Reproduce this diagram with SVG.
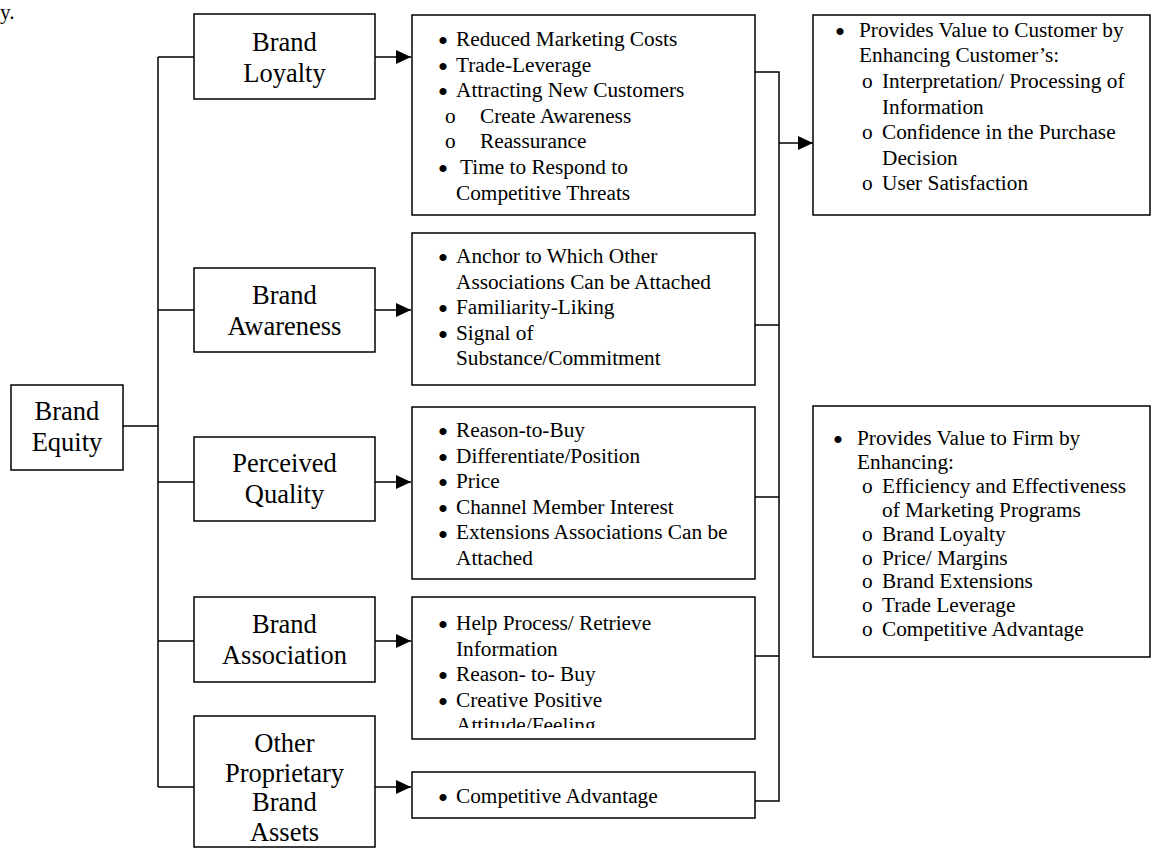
<svg xmlns="http://www.w3.org/2000/svg" width="1152" height="848" viewBox="0 0 1152 848">
<style>
.box{fill:#fff;stroke:#000;stroke-width:1.5}
.lbl{font-family:"Liberation Serif","Times New Roman",serif;font-size:26.5px;fill:#000;text-anchor:middle}
.t{font-family:"Liberation Serif","Times New Roman",serif;font-size:21.3px;fill:#000}
.b{font-family:"Liberation Serif","Times New Roman",serif;font-size:21.3px;fill:#000;stroke:#000;stroke-width:2}
.c{fill:none;stroke:#000;stroke-width:1.5}
</style>
<defs>
<marker id="ah" markerUnits="userSpaceOnUse" markerWidth="15" markerHeight="14" refX="15" refY="7" orient="auto"><path d="M0,0 L15,7 L0,14 z" fill="#000"/></marker>
<clipPath id="clip4"><rect x="412" y="597" width="343" height="131"/></clipPath>
</defs>
<rect width="1152" height="848" fill="#fff"/>
<text class="t" x="0" y="19">y.</text>

<g id="connectors">
<path class="c" d="M123,426 H158 M158,57 V787 M158,57 H194 M158,310 H194 M158,482 H194 M158,641 H194 M158,787 H194"/>
<path class="c" d="M375,57 H411" marker-end="url(#ah)"/>
<path class="c" d="M375,310 H411" marker-end="url(#ah)"/>
<path class="c" d="M375,482 H411" marker-end="url(#ah)"/>
<path class="c" d="M375,641 H411" marker-end="url(#ah)"/>
<path class="c" d="M375,787 H411" marker-end="url(#ah)"/>
<path class="c" d="M755,72 H779 V801 H755 M755,325 H779 M755,497 H779 M755,656 H779"/>
<path class="c" d="M779,143 H813" marker-end="url(#ah)"/>
</g>

<g id="brand-equity">
<rect class="box" x="11" y="385" width="112" height="85"/>
<text class="lbl" x="67" y="420">Brand</text>
<text class="lbl" x="67" y="451">Equity</text>
</g>

<g id="brand-loyalty">
<rect class="box" x="194" y="14" width="181" height="85"/>
<text class="lbl" x="284.5" y="50.5">Brand</text>
<text class="lbl" x="284.5" y="81.5">Loyalty</text>
</g>

<g id="brand-awareness">
<rect class="box" x="194" y="268" width="181" height="84"/>
<text class="lbl" x="284.5" y="304">Brand</text>
<text class="lbl" x="284.5" y="335">Awareness</text>
</g>

<g id="perceived-quality">
<rect class="box" x="194" y="437" width="181" height="84"/>
<text class="lbl" x="284.5" y="472">Perceived</text>
<text class="lbl" x="284.5" y="503">Quality</text>
</g>

<g id="brand-association">
<rect class="box" x="194" y="597" width="181" height="85"/>
<text class="lbl" x="284.5" y="633">Brand</text>
<text class="lbl" x="284.5" y="664">Association</text>
</g>

<g id="other-assets">
<rect class="box" x="194" y="716" width="181" height="131"/>
<text class="lbl" x="284.5" y="752">Other</text>
<text class="lbl" x="284.5" y="782">Proprietary</text>
<text class="lbl" x="284.5" y="811">Brand</text>
<text class="lbl" x="284.5" y="841">Assets</text>
</g>

<g id="loyalty-benefits">
<rect class="box" x="412" y="15" width="343" height="200"/>
<g transform="translate(0,2.3)">
<text class="b" x="439.3" y="46">•</text>
<text class="b" x="439.3" y="71.6">•</text>
<text class="b" x="439.3" y="97.2">•</text>
<text class="b" x="439.3" y="174">•</text>
</g>
<text class="t" x="456" y="46">Reduced Marketing Costs</text>
<text class="t" x="456" y="71.6">Trade-Leverage</text>
<text class="t" x="456" y="97.2">Attracting New Customers</text>
<text class="t" x="445" y="122.8">o</text><text class="t" x="480" y="122.8">Create Awareness</text>
<text class="t" x="445" y="148.4">o</text><text class="t" x="480" y="148.4">Reassurance</text>
<text class="t" x="460" y="174">Time to Respond to</text>
<text class="t" x="456" y="199.6">Competitive Threats</text>
</g>

<g id="awareness-benefits">
<rect class="box" x="412" y="233" width="343" height="152"/>
<g transform="translate(0,2.3)">
<text class="b" x="439.3" y="263">•</text>
<text class="b" x="439.3" y="314.2">•</text>
<text class="b" x="439.3" y="339.8">•</text>
</g>
<text class="t" x="456" y="263">Anchor to Which Other</text>
<text class="t" x="456" y="288.6">Associations Can be Attached</text>
<text class="t" x="456" y="314.2">Familiarity-Liking</text>
<text class="t" x="456" y="339.8">Signal of</text>
<text class="t" x="456" y="365.4">Substance/Commitment</text>
</g>

<g id="quality-benefits">
<rect class="box" x="412" y="407" width="343" height="172"/>
<g transform="translate(0,2.3)">
<text class="b" x="439.3" y="437">•</text>
<text class="b" x="439.3" y="462.6">•</text>
<text class="b" x="439.3" y="488.2">•</text>
<text class="b" x="439.3" y="513.8">•</text>
<text class="b" x="439.3" y="539.4">•</text>
</g>
<text class="t" x="456" y="437">Reason-to-Buy</text>
<text class="t" x="456" y="462.6">Differentiate/Position</text>
<text class="t" x="456" y="488.2">Price</text>
<text class="t" x="456" y="513.8">Channel Member Interest</text>
<text class="t" x="456" y="539.4">Extensions Associations Can be</text>
<text class="t" x="456" y="565">Attached</text>
</g>

<g id="association-benefits">
<rect class="box" x="412" y="597" width="343" height="142"/>
<g clip-path="url(#clip4)">
<g transform="translate(0,2.3)">
<text class="b" x="439.3" y="630">•</text>
<text class="b" x="439.3" y="681.2">•</text>
<text class="b" x="439.3" y="706.8">•</text>
</g>
<text class="t" x="456" y="630">Help Process/ Retrieve</text>
<text class="t" x="456" y="655.6">Information</text>
<text class="t" x="456" y="681.2">Reason- to- Buy</text>
<text class="t" x="456" y="706.8">Creative Positive</text>
<text class="t" x="456" y="732">Attitude/Feeling</text>
</g>
</g>

<g id="other-benefits">
<rect class="box" x="412" y="772" width="343" height="46"/>
<text class="b" x="439.3" y="805.3">•</text>
<text class="t" x="456" y="803">Competitive Advantage</text>
</g>

<g id="customer-value">
<rect class="box" x="813" y="15" width="337" height="200"/>
<text class="b" x="836.3" y="39">•</text>
<text class="t" x="859" y="36.7">Provides Value to Customer by</text>
<text class="t" x="859" y="62.3">Enhancing Customer’s:</text>
<text class="t" x="862" y="87.9">o</text><text class="t" x="882" y="87.9">Interpretation/ Processing of</text>
<text class="t" x="882" y="113.5">Information</text>
<text class="t" x="862" y="139.1">o</text><text class="t" x="882" y="139.1">Confidence in the Purchase</text>
<text class="t" x="882" y="164.7">Decision</text>
<text class="t" x="862" y="190.3">o</text><text class="t" x="882" y="190.3">User Satisfaction</text>
</g>

<g id="firm-value">
<rect class="box" x="813" y="406" width="337" height="251"/>
<text class="b" x="834.3" y="447.3">•</text>
<text class="t" x="857" y="445">Provides Value to Firm by</text>
<text class="t" x="857" y="468.9">Enhancing:</text>
<text class="t" x="862" y="492.8">o</text><text class="t" x="882" y="492.8">Efficiency and Effectiveness</text>
<text class="t" x="882" y="516.7">of Marketing Programs</text>
<text class="t" x="862" y="540.6">o</text><text class="t" x="882" y="540.6">Brand Loyalty</text>
<text class="t" x="862" y="564.5">o</text><text class="t" x="882" y="564.5">Price/ Margins</text>
<text class="t" x="862" y="588.4">o</text><text class="t" x="882" y="588.4">Brand Extensions</text>
<text class="t" x="862" y="612.3">o</text><text class="t" x="882" y="612.3">Trade Leverage</text>
<text class="t" x="862" y="636.2">o</text><text class="t" x="882" y="636.2">Competitive Advantage</text>
</g>
</svg>
